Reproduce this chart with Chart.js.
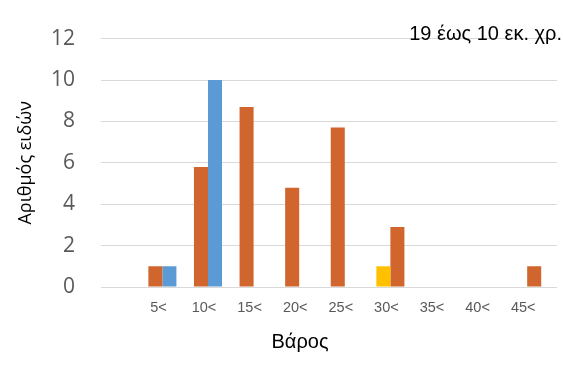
<!DOCTYPE html>
<html lang="el">
<head>
<meta charset="utf-8">
<title>Αριθμός ειδών ανά βάρος</title>
<script src="https://cdn.jsdelivr.net/npm/chart.js@4.4.1/dist/chart.umd.min.js"></script>
<style>
  html, body { margin: 0; padding: 0; background: #fff; }
  #wrap { width: 563px; height: 365px; }
</style>
</head>
<body>
<div id="wrap"><canvas id="chart"></canvas></div>
<script>
const categories = ['', '5<', '10<', '15<', '20<', '25<', '30<', '35<', '40<', '45<'];

// first bar of each group
const orangeFirst = [null, 1, 5.8, 8.7, 4.8, 7.7, null, null, null, null];
const yellowFirst = [null, null, null, null, null, null, 1, null, null, null];
// second bar of each group
const blueSecond = [null, 1, 10, null, null, null, null, null, null, null];
const orangeSecond = [null, null, null, null, null, null, 2.9, null, null, 1];
// third slot is kept but has no values
const emptyThird = [null, null, null, null, null, null, null, null, null, null];

const yTicks = [0, 2, 4, 6, 8, 10, 12];

const periodLabel = '19 έως 10 εκ. χρ.';
const xTitle = 'Βάρος';

const ORANGE = '#D0652E';
const BLUE = '#5B9BD5';
const YELLOW = '#FFC000';
const GRID = '#d9d9d9';
const TICK = '#595959';

// period caption in the top right corner and the weight axis title
const captions = {
  id: 'captions',
  afterDraw(chart) {
    const { ctx, chartArea } = chart;
    ctx.save();
    ctx.fillStyle = '#000';
    ctx.font = '20px "Liberation Sans", Arial, sans-serif';
    ctx.textAlign = 'right';
    ctx.textBaseline = 'alphabetic';
    ctx.fillText(periodLabel, chartArea.right + 5, chartArea.top + 1);

    ctx.font = '20px "Liberation Sans", Arial, sans-serif';
    ctx.textAlign = 'center';
    ctx.textBaseline = 'middle';
    ctx.fillText(xTitle, chartArea.left + 199, chartArea.bottom + 55);
    ctx.restore();
  }
};

new Chart(document.getElementById('chart'), {
  type: 'bar',
  data: {
    labels: categories,
    datasets: [
      { data: orangeFirst, backgroundColor: ORANGE, stack: 'first' },
      { data: yellowFirst, backgroundColor: YELLOW, stack: 'first' },
      { data: blueSecond, backgroundColor: BLUE, stack: 'second' },
      { data: orangeSecond, backgroundColor: ORANGE, stack: 'second' },
      { data: emptyThird, backgroundColor: ORANGE, stack: 'third' }
    ]
  },
  options: {
    responsive: true,
    maintainAspectRatio: false,
    animation: false,
    datasets: {
      bar: { categoryPercentage: 0.923, barPercentage: 1, borderWidth: 0 }
    },
    layout: { padding: { top: 35, right: 6, left: 0, bottom: 0 } },
    plugins: {
      legend: { display: false },
      tooltip: { enabled: false }
    },
    scales: {
      x: {
        stacked: true,
        grid: { display: false },
        border: { display: false },
        ticks: {
          color: TICK,
          font: { family: '"Liberation Sans", Arial, sans-serif', size: 14.5 },
          padding: 4,
          labelOffset: -11,
          maxRotation: 0,
          autoSkip: false
        },
        afterFit: (scale) => { scale.height = 78; }
      },
      y: {
        stacked: true,
        min: 0,
        max: 12,
        grid: { color: GRID, drawTicks: false },
        border: { display: false },
        ticks: {
          color: TICK,
          font: { family: '"Open Sans", sans-serif', size: 21 },
          padding: 26
        },
        afterBuildTicks: (scale) => { scale.ticks = yTicks.map(v => ({ value: v })); },
        title: {
          display: true,
          text: 'Αριθμός ειδών',
          color: '#000',
          font: { family: '"Open Sans", sans-serif', size: 18 },
          padding: { top: 15, bottom: 0 }
        },
        afterFit: (scale) => { scale.width = 101; }
      }
    }
  },
  plugins: [captions]
});
</script>
</body>
</html>
